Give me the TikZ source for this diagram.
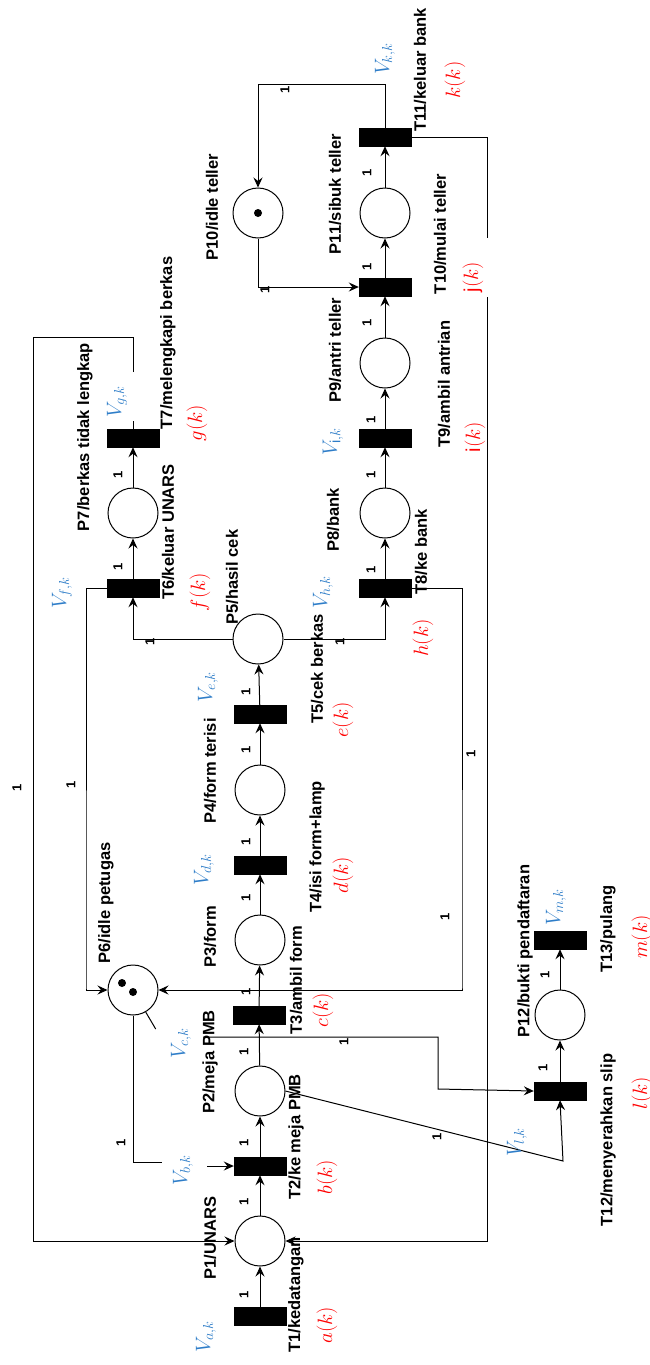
\documentclass[tikz,border=0pt]{standalone}
\usepackage{fontspec}
\setmainfont{Liberation Sans}
\usepackage{tikz}
\usetikzlibrary{arrows.meta}
\definecolor{vblue}{RGB}{46,125,200}
\tikzset{
  pn_place/.style = {circle, draw=black, fill=white, line width=1pt,
    minimum size=50pt, inner sep=0pt},% tempat
  pn_trans/.style = {rectangle, draw=black, fill=black,
    minimum width=52pt, minimum height=18pt, inner sep=0pt},% transisi
  pn_txt/.style = {rotate=90, inner sep=1pt,
    font=\fontsize{16.5}{18}\selectfont\bfseries},
  pn_w/.style = {rotate=90, inner sep=0pt,
    font=\fontsize{13}{15}\selectfont\bfseries},% bobot arc
  pn_v/.style = {rotate=90, inner sep=1pt, text=vblue,
    font=\fontsize{21}{24}\selectfont},
  pn_f/.style = {rotate=90, inner sep=1pt, text=red,
    font=\fontsize{20}{24}\selectfont},
  pn_arc/.style = {->, line width=1pt},
  pn_line/.style = {line width=1pt}
}

\begin{document}
\begin{tikzpicture}[x=1pt,y=-1pt,>={Stealth[length=10pt,width=9pt,inset=3.5pt]}]
\useasboundingbox (0,0) rectangle (650,1365);

% tempat
\node [pn_place] (P1) at (260,1241) {};
\node [pn_place] (P2) at (260,1091) {};
\node [pn_place] (P3) at (260,940) {};
\node [pn_place] (P4) at (260,790) {};
\node [pn_place] (P5) at (258,639) {};
\node [pn_place] (P6) at (133,990) {};
\node [pn_place] (P7) at (133,513) {};
\node [pn_place] (P8) at (385,513) {};
\node [pn_place] (P9) at (385,363) {};
\node [pn_place] (P10) at (258,213) {};
\node [pn_place] (P11) at (385,213) {};
\node [pn_place] (P12) at (560,1015) {};
\fill (P10) circle (4);
\fill ([shift={(-11,-7)}]P6.center) circle (4);
\fill ([shift={(0,2)}]P6.center) circle (4);

% transisi
\node [pn_trans] (T1) at (260,1316) {};
\node [pn_trans] (T2) at (260,1166) {};
\node [pn_trans] (T3) at (259,1015) {};
\node [pn_trans] (T4) at (260,865) {};
\node [pn_trans] (T5) at (260,714) {};
\node [pn_trans] (T6) at (133,588) {};
\node [pn_trans] (T7) at (133,438) {};
\node [pn_trans] (T8) at (385,588) {};
\node [pn_trans] (T9) at (385,438) {};
\node [pn_trans] (T10) at (385,287) {};
\node [pn_trans] (T11) at (385,137) {};
\node [pn_trans] (T12) at (560,1091) {};
\node [pn_trans] (T13) at (560,940) {};

% titik belok
\coordinate (c_k11) at (258,84);
\coordinate (c_g0) at (133,421);
\coordinate (c_g1) at (133,372);
\coordinate (c_g2) at (33,337);
\coordinate (c_j0) at (487,238);
\coordinate (c_j1) at (487,297);
\coordinate (c_h1) at (462,987);
\coordinate (c_f1) at (86,988);
\coordinate (c_b1) at (162,1162);
\coordinate (c_b2) at (207,1166);
\coordinate (c_l1) at (563,1161);
\coordinate (c_l2) at (203,1037);
\coordinate (c_l3) at (438,1089);

% arc
\draw [pn_arc] (T1) -- (P1);
\draw [pn_arc] (P1) -- (T2);
\draw [pn_arc] (T2) -- (P2);
\draw [pn_arc] (P2) -- (T3);
\draw [pn_arc] (T3) -- (P3);
\draw [pn_arc] (P3) -- (T4);
\draw [pn_arc] (T4) -- (P4);
\draw [pn_arc] (P4) -- (T5);
\draw [pn_arc] (T5) -- (P5);
\draw [pn_arc] (P5.west) -| (T6.south);
\draw [pn_arc] (P5.east) -| (T8.south);
\draw [pn_arc] (T6) -- (P7);
\draw [pn_arc] (P7) -- (T7);
\draw [pn_arc] (T8) -- (P8);
\draw [pn_arc] (P8) -- (T9);
\draw [pn_arc] (T9) -- (P9);
\draw [pn_arc] (P9) -- (T10);
\draw [pn_arc] (T10) -- (P11);
\draw [pn_arc] (P11) -- (T11);
\draw [pn_arc] (T11.north) |- (c_k11) -- (P10.north);
\draw [pn_arc] (P10.south) |- (T10.west);
\draw [pn_line] (T11.east) -| (c_j0);
\draw [pn_arc] (c_j1) |- (P1.east);
\draw [pn_line] (T7.north) -- (c_g0);
\draw [pn_arc] (c_g1) |- (c_g2) |- (P1.west);
\draw [pn_arc] (T6.west) -| (c_f1) |- (P6.west);
\draw [pn_arc] (T8.east) -| (c_h1) |- (P6.east);
\draw [pn_line] (P6.south) |- (c_b1);
\draw [pn_arc] (c_b2) -- (T2.west);
\draw [pn_line] (P6.-60) -- ++(10,17);
\draw [pn_arc] (P2.east) -- (c_l1) -- (T12.south);
\draw [pn_arc] (c_l2) -| (c_l3) -- (T12.west);
\draw [pn_arc] (T12) -- (P12);
\draw [pn_arc] (P12) -- (T13);

% bobot
\node [pn_w] at (244,1295) {1};
\node [pn_w] at (244,1202) {1};
\node [pn_w] at (244,1143) {1};
\node [pn_w] at (244,1052) {1};
\node [pn_w] at (246,992) {1};
\node [pn_w] at (246,898) {1};
\node [pn_w] at (246,842) {1};
\node [pn_w] at (246,750) {1};
\node [pn_w] at (246,692) {1};
\node [pn_w] at (150,642) {1};
\node [pn_w] at (340,642) {1};
\node [pn_w] at (118,567) {1};
\node [pn_w] at (118,475) {1};
\node [pn_w] at (371,570) {1};
\node [pn_w] at (371,475) {1};
\node [pn_w] at (371,420) {1};
\node [pn_w] at (367,323) {1};
\node [pn_w] at (367,267) {1};
\node [pn_w] at (367,173) {1};
\node [pn_w] at (285,90) {1};
\node [pn_w] at (265,290) {1};
\node [pn_w] at (17,788) {1};
\node [pn_w] at (71,785) {1};
\node [pn_w] at (471,754) {1};
\node [pn_w] at (445,917) {1};
\node [pn_w] at (121,1143) {1};
\node [pn_w] at (344,1042) {1};
\node [pn_w] at (437,1137) {1};
\node [pn_w] at (543,1068) {1};
\node [pn_w] at (545,975) {1};

% nama tempat dan transisi
\node [pn_txt] (lP1) at (210,1238) {P1/UNARS};
\node [pn_txt] (lP2) at (210,1062) {P2/meja PMB};
\node [pn_txt] (lP3) at (210,937) {P3/form};
\node [pn_txt] (lP4) at (210,771) {P4/form terisi};
\node [pn_txt] (lP5) at (232,577) {P5/hasil cek};
\node [pn_txt] (lP6) at (106,903) {P6/idle petugas};
\node [pn_txt] (lP7) at (85,437) {P7/berkas tidak lengkap};
\node [pn_txt] (lP8) at (333,520) {P8/bank};
\node [pn_txt] (lP9) at (335,350) {P9/antri teller};
\node [pn_txt] (lP10) at (212,207) {P10/idle teller};
\node [pn_txt] (lP11) at (335,194) {P11/sibuk teller};
\node [pn_txt] (lP12) at (525,951) {P12/bukti pendaftaran};
\node [pn_txt] (lT1) at (296,1295) {T1/kedatangan};
\node [pn_txt] (lT2) at (296,1137) {T2/ke meja PMB};
\node [pn_txt] (lT3) at (296,980) {T3/ambil form};
\node [pn_txt] (lT4) at (317,847) {T4/isi form+lamp};
\node [pn_txt] (lT5) at (317,669) {T5/cek berkas};
\node [pn_txt] (lT6) at (168,532) {T6/keluar UNARS};
\node [pn_txt] (lT7) at (168,343) {T7/melengkapi berkas};
\node [pn_txt] (lT8) at (421,552) {T8/ke bank};
\node [pn_txt] (lT9) at (444,384) {T9/ambil antrian};
\node [pn_txt] (lT10) at (440,234) {T10/mulai teller};
\node [pn_txt] (lT11) at (420,70) {T11/keluar bank};
\node [pn_txt] (lT12) at (608,1140) {T12/menyerahkan slip};
\node [pn_txt] (lT13) at (608,929) {T13/pulang};

% V
\node [pn_v] (vA) at (206,1337) {$V_{a,k}$};
\node [pn_v] (vB) at (183,1170) {$V_{b,k}$};
\node [pn_v] (vC) at (181,1043) {$V_{c,k}$};
\node [pn_v] (vD) at (204,870) {$V_{d,k}$};
\node [pn_v] (vE) at (208,687) {$V_{e,k}$};
\node [pn_v] (vF) at (62,593) {$V_{f,k}$};
\node [pn_v] (vG) at (117,402) {$V_{g,k}$};
\node [pn_v] (vH) at (323,592) {$V_{h,k}$};
\node [pn_v] (vI) at (333,442) {$V_{\mathrm{i},k}$};
\node [pn_v] (vK) at (385,59) {$V_{k,k}$};
\node [pn_v] (vL) at (517,1142) {$V_{l,k}$};
\node [pn_v] (vM) at (556,907) {$V_{m,k}$};

% fungsi
\node [pn_f] (fA) at (327,1325) {$a(k)$};
\node [pn_f] (fB) at (327,1177) {$b(k)$};
\node [pn_f, fill=white] (fC) at (323,1010) {$c(k)$};
\node [pn_f] (fD) at (343,875) {$d(k)$};
\node [pn_f] (fE) at (343,720) {$e(k)$};
\node [pn_f] (fF) at (200,592) {$f(k)$};
\node [pn_f] (fG) at (197,423) {$g(k)$};
\node [pn_f] (fH) at (423,638) {$h(k)$};
\node [pn_f] (fI) at (475,437) {$\mathrm{i}(k)$};
\node [pn_f] (fJ) at (473,277) {$\mathrm{j}(k)$};
\node [pn_f] (fK) at (455,80) {$k(k)$};
\node [pn_f] (fL) at (642,1093) {$l(k)$};
\node [pn_f] (fM) at (642,937) {$m(k)$};
\end{tikzpicture}
\end{document}
